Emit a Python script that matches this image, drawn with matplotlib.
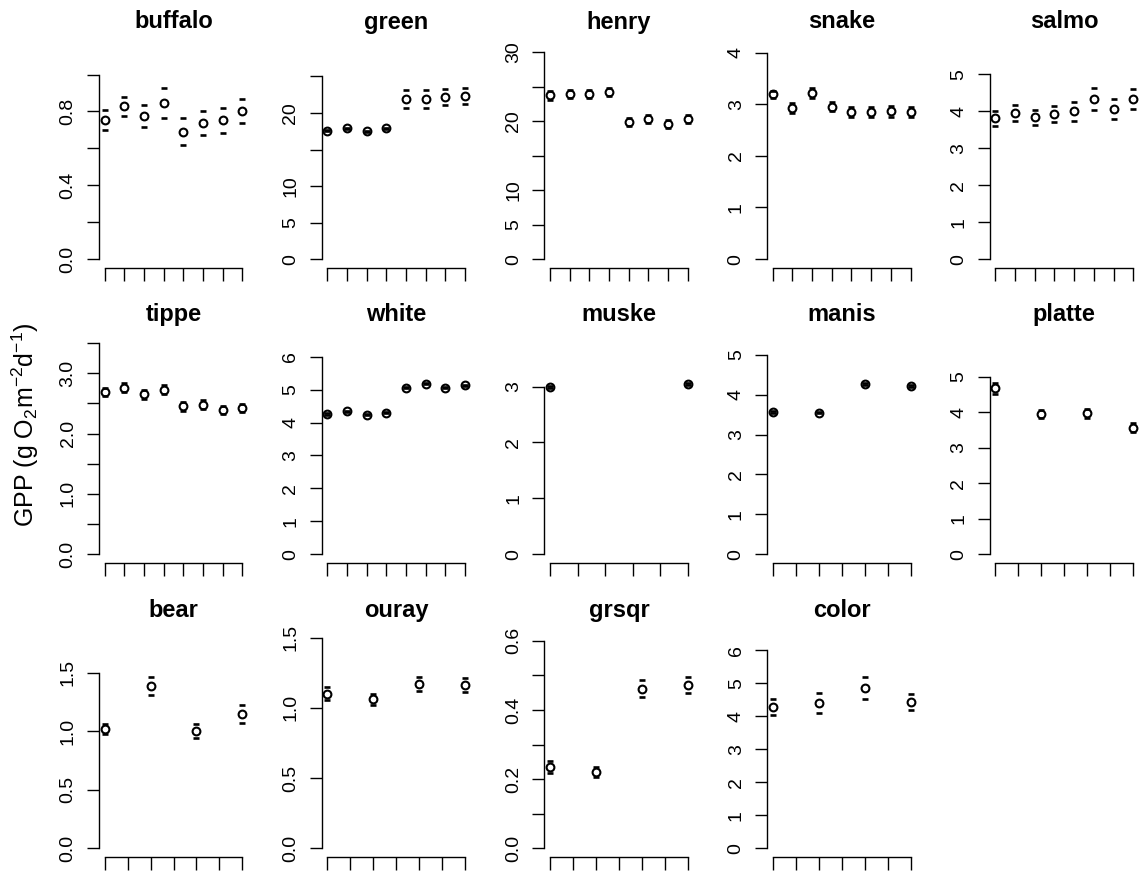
import numpy as np
import matplotlib
matplotlib.use("Agg")
import matplotlib.pyplot as plt

plt.rcParams["font.family"] = ["Liberation Sans", "DejaVu Sans"]
plt.rcParams["mathtext.fontset"] = "custom"
plt.rcParams["mathtext.rm"] = "Liberation Sans"
plt.rcParams["mathtext.it"] = "Liberation Sans:italic"
plt.rcParams["mathtext.bf"] = "Liberation Sans:bold"

nan = np.nan

# site names, in panel order
sites = ["buffalo", "green", "henry", "snake", "salmo",
         "tippe", "white", "muske", "manis", "platte",
         "bear", "ouray", "grsqr", "color"]

# mean GPP per period (nan = no data for that period)
gpp_mean = {
    "buffalo": [0.755, 0.827, 0.775, 0.845, 0.690, 0.738, 0.751, 0.800],
    "green": [17.6, 17.9, 17.5, 17.9, 21.95, 21.9, 22.2, 22.3],
    "henry": [23.75, 24.0, 23.95, 24.2, 19.85, 20.3, 19.65, 20.3],
    "snake": [3.19, 2.92, 3.21, 2.95, 2.85, 2.85, 2.86, 2.85],
    "salmo": [3.81, 3.95, 3.83, 3.93, 4.00, 4.32, 4.06, 4.33],
    "tippe": [2.69, 2.76, 2.65, 2.73, 2.45, 2.48, 2.39, 2.42],
    "white": [4.26, 4.34, 4.24, 4.30, 5.06, 5.18, 5.06, 5.13],
    "muske": [2.99, nan, nan, nan, nan, 3.04],
    "manis": [3.57, nan, 3.55, nan, 4.27, nan, 4.22],
    "platte": [4.67, nan, 3.95, nan, 3.97, nan, 3.57],
    "bear": [1.018, nan, 1.386, nan, 1.0, nan, 1.143],
    "ouray": [1.10, nan, 1.06, nan, 1.168, nan, 1.165],
    "grsqr": [0.235, nan, 0.22, nan, 0.462, nan, 0.472],
    "color": [4.28, nan, 4.41, nan, 4.85, nan, 4.43],
}

# standard errors
gpp_se = {
    "buffalo": [0.053, 0.053, 0.058, 0.081, 0.072, 0.066, 0.067, 0.065],
    "green": [0.05, 0.05, 0.05, 0.05, 1.2, 1.25, 1.1, 1.1],
    "henry": [0.6, 0.6, 0.6, 0.6, 0.6, 0.6, 0.6, 0.6],
    "snake": [0.07, 0.1, 0.1, 0.09, 0.1, 0.1, 0.1, 0.1],
    "salmo": [0.2, 0.225, 0.21, 0.215, 0.255, 0.3, 0.28, 0.26],
    "tippe": [0.07, 0.075, 0.07, 0.07, 0.07, 0.07, 0.07, 0.07],
    "white": [0.02, 0.02, 0.02, 0.02, 0.02, 0.02, 0.02, 0.02],
    "muske": [0.02, nan, nan, nan, nan, 0.02],
    "manis": [0.02, nan, 0.02, nan, 0.02, nan, 0.02],
    "platte": [0.15, nan, 0.1, nan, 0.13, nan, 0.12],
    "bear": [0.045, nan, 0.076, nan, 0.058, nan, 0.077],
    "ouray": [0.045, nan, 0.04, nan, 0.05, nan, 0.05],
    "grsqr": [0.017, nan, 0.015, nan, 0.025, nan, 0.023],
    "color": [0.245, nan, 0.305, nan, 0.33, nan, 0.245],
}

# y axis ticks and which of them carry a label
y_ticks = {
    "buffalo": [0, 0.2, 0.4, 0.6, 0.8, 1.0],
    "green": [0, 5, 10, 15, 20, 25],
    "henry": [0, 5, 10, 15, 20, 25, 30],
    "snake": [0, 1, 2, 3, 4],
    "salmo": [0, 1, 2, 3, 4, 5],
    "tippe": [0, 0.5, 1.0, 1.5, 2.0, 2.5, 3.0, 3.5],
    "white": [0, 1, 2, 3, 4, 5, 6],
    "muske": [0, 1, 2, 3],
    "manis": [0, 1, 2, 3, 4, 5],
    "platte": [0, 1, 2, 3, 4, 5],
    "bear": [0, 0.5, 1.0, 1.5],
    "ouray": [0, 0.5, 1.0, 1.5],
    "grsqr": [0, 0.1, 0.2, 0.3, 0.4, 0.5, 0.6],
    "color": [0, 1, 2, 3, 4, 5, 6],
}
y_labels = {
    "buffalo": ["0.0", "", "0.4", "", "0.8", ""],
    "green": ["0", "5", "10", "", "20", ""],
    "henry": ["0", "5", "10", "", "20", "", "30"],
    "snake": ["0", "1", "2", "3", "4"],
    "salmo": ["0", "1", "2", "3", "4", "5"],
    "tippe": ["0.0", "", "1.0", "", "2.0", "", "3.0", ""],
    "white": ["0", "1", "2", "3", "4", "5", "6"],
    "muske": ["0", "1", "2", "3"],
    "manis": ["0", "1", "2", "3", "4", "5"],
    "platte": ["0", "1", "2", "3", "4", "5"],
    "bear": ["0.0", "0.5", "1.0", "1.5"],
    "ouray": ["0.0", "0.5", "1.0", "1.5"],
    "grsqr": ["0.0", "", "0.2", "", "0.4", "", "0.6"],
    "color": ["0", "1", "2", "3", "4", "5", "6"],
}

FW, FH = 1146, 871
fig = plt.figure(figsize=(FW / 100, FH / 100), dpi=100)

col_left = [99 + c * 222.7 for c in range(5)]
row_bottom = [268, 563, 857]
title_base = [28.5, 321, 617]
pw, ph = 149, 240

for i, site in enumerate(sites):
    r, c = divmod(i, 5)
    ax = fig.add_axes([col_left[c] / FW, 1 - row_bottom[r] / FH, pw / FW, ph / FH])
    m = np.array(gpp_mean[site])
    se = np.array(gpp_se[site])
    n = len(m)
    x = np.arange(1, n + 1)
    lo, hi = m - se, m + se

    ymax = 1.3 * np.nanmax(hi)
    ax.set_ylim(-0.04 * ymax, 1.04 * ymax)
    ax.set_xlim(1 - 0.04 * (n - 1), n + 0.04 * (n - 1))

    ax.plot(x, hi, ls="none", marker="_", ms=5, mew=1.9, color="black", clip_on=False)
    ax.plot(x, lo, ls="none", marker="_", ms=5, mew=1.9, color="black", clip_on=False)
    ax.plot(x, m, ls="none", marker="o", ms=5.6, mew=1.5, mfc="none", mec="black",
            clip_on=False, zorder=3)

    for s in ["top", "right"]:
        ax.spines[s].set_visible(False)
    ax.spines["left"].set_bounds(0, y_ticks[site][-1])
    ax.spines["bottom"].set_bounds(1, n)
    ax.spines["left"].set_linewidth(1.0)
    ax.spines["bottom"].set_linewidth(1.0)

    ax.set_xticks(x)
    ax.set_xticklabels([])
    ax.set_yticks(y_ticks[site])
    ax.set_yticklabels(y_labels[site], rotation=90, va="center")
    ax.tick_params(axis="x", length=9.2, width=1.0)
    ax.tick_params(axis="y", length=8.6, width=1.0, labelsize=14, pad=7.5)

    fig.text((col_left[c] + pw / 2) / FW, 1 - title_base[r] / FH, site,
             ha="center", va="baseline", fontsize=17, fontweight="bold")

fig.text(25 / FW, 1 - 425 / FH, r"GPP (g O$_2$m$^{-2}$d$^{-1}$)",
         rotation=90, ha="center", va="center", fontsize=18)

fig.savefig("out.png", dpi=100)
